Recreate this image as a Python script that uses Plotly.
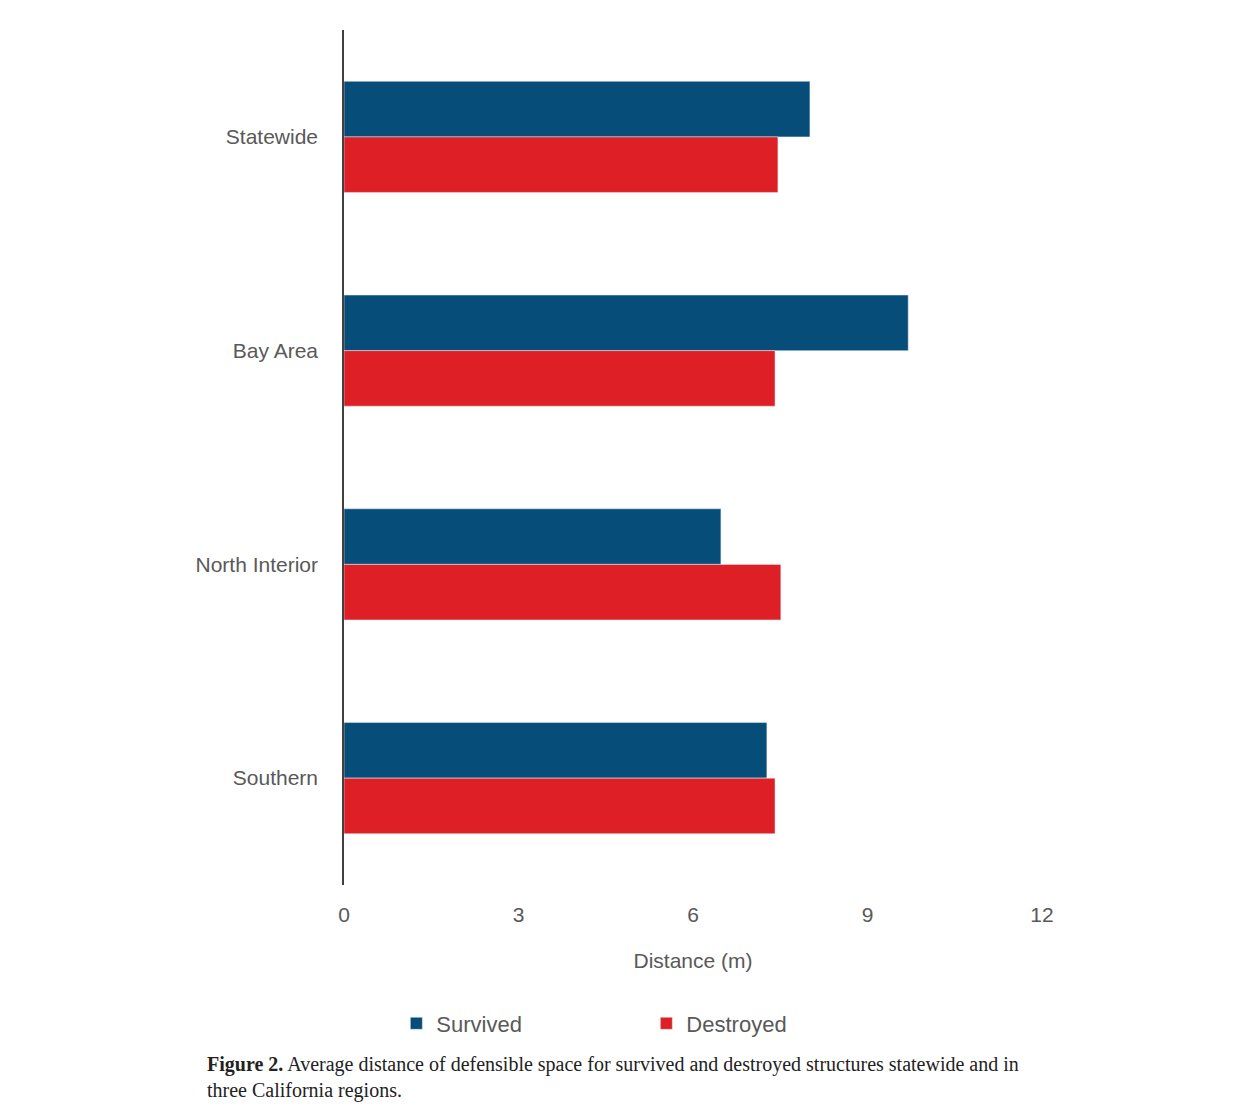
import plotly.graph_objects as go

# --- DATA ---
regions = ["Statewide", "Bay Area", "North Interior", "Southern"]
survived = [8.01, 9.70, 6.48, 7.27]
destroyed = [7.46, 7.41, 7.51, 7.41]

BLUE = "#064D7A"
RED = "#DE1F26"
GREY = "#595959"

fig = go.Figure()
fig.add_trace(go.Bar(y=regions, x=survived, name="Survived", orientation="h", marker_color=BLUE))
fig.add_trace(go.Bar(y=regions, x=destroyed, name="Destroyed", orientation="h", marker_color=RED))

fig.update_layout(
    width=1241, height=1111,
    margin=dict(l=336, r=207, t=22, b=234),
    plot_bgcolor="white", paper_bgcolor="white",
    barmode="group", bargap=0.48, bargroupgap=0,
    font=dict(family="Liberation Sans, Arial, sans-serif", size=21, color=GREY),
    showlegend=True,
    legend=dict(orientation="h", x=0.075, y=-0.162,
                xanchor="left", yanchor="middle", entrywidth=205,
                font=dict(size=22, color=GREY), itemwidth=30),
    xaxis=dict(range=[0, 12], tickvals=[0, 3, 6, 9, 12], showgrid=False,
               zeroline=False, showline=False, ticks="", ticklabelstandoff=15,
               title=dict(text="Distance (m)", standoff=28, font=dict(size=21, color=GREY))),
    yaxis=dict(autorange="reversed", showline=True, linecolor="#404040", linewidth=1.5,
               showgrid=False, ticks="", ticklabelstandoff=20),
)

caption_font = dict(family="Liberation Serif, serif", size=20, color="#222222")
fig.add_annotation(xref="paper", yref="paper", x=-0.199, y=-0.2105, xanchor="left", yanchor="middle",
                   showarrow=False, font=caption_font,
                   text="<b>Figure 2.</b> Average distance of defensible space for survived and destroyed structures statewide and in")
fig.add_annotation(xref="paper", yref="paper", x=-0.199, y=-0.24, xanchor="left", yanchor="middle",
                   showarrow=False, font=caption_font, text="three California regions.")

fig.write_html("out.html")
